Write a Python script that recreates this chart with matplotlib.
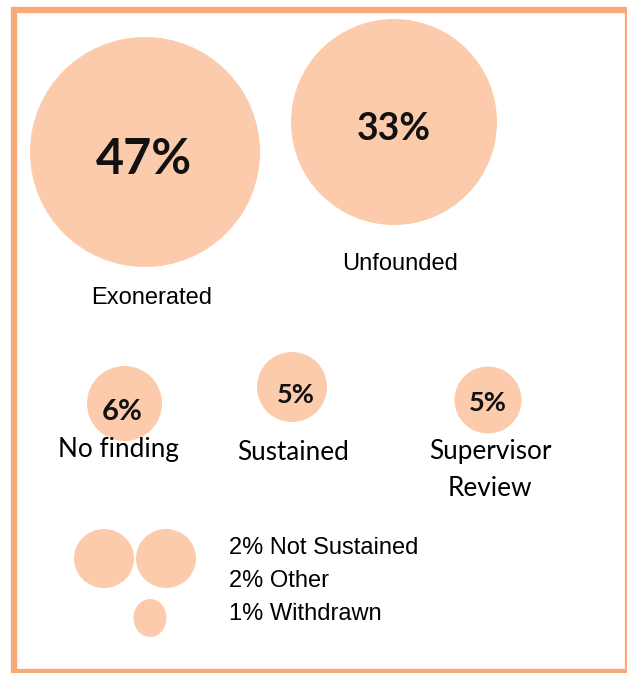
import matplotlib
matplotlib.use("Agg")
import matplotlib.pyplot as plt
from matplotlib.patches import Ellipse, Rectangle

# Outcome shares (percent)
big_labels = ["Exonerated", "Unfounded"]
big_values = [47, 33]
mid_labels = ["No finding", "Sustained", "Supervisor\nReview"]
mid_values = [6, 5, 5]
small_labels = ["Not Sustained", "Other", "Withdrawn"]
small_values = [2, 2, 1]

FILL = "#FCCBAB"
EDGE = "#F9A977"
W, H = 627, 673

fig = plt.figure(figsize=(W / 100, H / 100), dpi=100)
ax = fig.add_axes([0, 0, 1, 1])
ax.set_xlim(0, W)
ax.set_ylim(H, 0)
ax.axis("off")

# frame
ax.add_patch(Rectangle((14, 10), 613.5, 662, fill=False, edgecolor=EDGE,
                       linewidth=4.5, clip_on=True))

# large bubbles: (cx, cy, radius)
big_circles = [(145, 152, 115), (394, 122, 103)]
big_text = [(144, 155, 35), (394, 126, 27)]
big_lab_pos = [(152, 296), (400, 262)]
for (cx, cy, r), (tx, ty, fs), (lx, ly), lab, v in zip(
        big_circles, big_text, big_lab_pos, big_labels, big_values):
    ax.add_patch(Ellipse((cx, cy), 2 * r, 2 * r, color=FILL, lw=0))
    ax.text(tx, ty, f"{v}%", family="Lato", weight="bold", fontsize=fs,
            ha="center", va="center_baseline", color="#111111")
    ax.text(lx, ly, lab, family="Liberation Sans", fontsize=17,
            ha="center", va="center_baseline", color="black")

# mid bubbles
mid_circles = [(124.5, 403.5, 37.5), (292, 387, 35), (488, 400, 33.5)]
mid_text = [(122, 410, 21), (296, 393, 19.5), (488, 401, 19.5)]
mid_lab_pos = [(118, 450), (293, 452), (490, 470)]
for (cx, cy, r), (tx, ty, fs), (lx, ly), lab, v in zip(
        mid_circles, mid_text, mid_lab_pos, mid_labels, mid_values):
    ax.add_patch(Ellipse((cx, cy), 2 * r, 2 * r, color=FILL, lw=0))
    ax.text(tx, ty, f"{v}%", family="Lato", weight="bold", fontsize=fs,
            ha="center", va="center_baseline", color="#111111")
    ax.text(lx, ly, lab, family="Lato", fontsize=18.8, ha="center",
            va="center", color="black", linespacing=1.6)

# small bubbles with a shared legend
small_circles = [(104, 558.5, 30, 29.5), (166, 558.5, 30, 29.5),
                 (150, 618, 16.5, 19)]
for (cx, cy, rx, ry) in small_circles:
    ax.add_patch(Ellipse((cx, cy), 2 * rx, 2 * ry, color=FILL, lw=0))
for i, (lab, v) in enumerate(zip(small_labels, small_values)):
    ax.text(229, 545 + i * 33.5, f"{v}% {lab}", family="Liberation Sans",
            fontsize=17, ha="left", va="center_baseline", color="black")

fig.savefig("out.png", dpi=100)
